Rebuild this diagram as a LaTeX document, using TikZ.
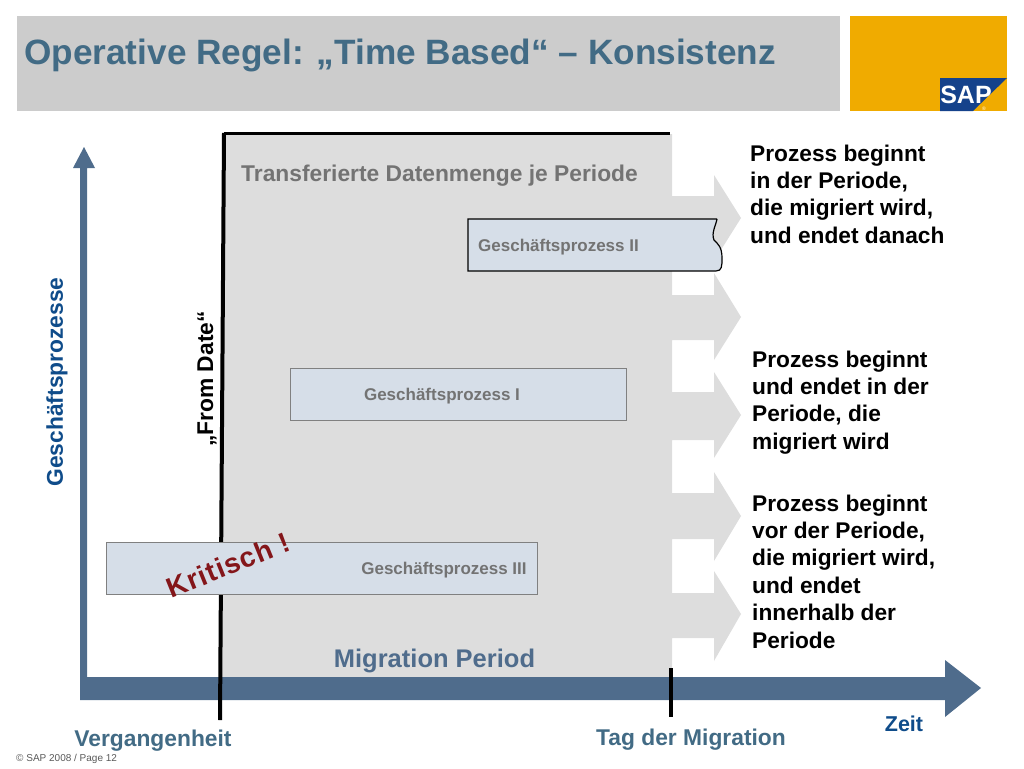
\documentclass[tikz,border=0pt]{standalone}
\usepackage{fontspec}
\setmainfont{Liberation Sans}
\usetikzlibrary{positioning}
\definecolor{sapblue}{HTML}{4F6C8C}
\definecolor{titleblue}{HTML}{426B85}
\definecolor{labelblue}{HTML}{0F4C8A}
\definecolor{bandgrey}{HTML}{CCCCCC}
\definecolor{areagrey}{HTML}{DDDDDD}
\definecolor{boxblue}{HTML}{D6DEE8}
\definecolor{sapgold}{HTML}{F0AB00}
\definecolor{sapnavy}{HTML}{15428B}
\definecolor{critred}{HTML}{84161A}
\tikzset{
  px/.style={x=1pt,y=-1pt},
  procbox/.style={draw=gray,line width=1pt,fill=boxblue,minimum height=52pt,inner sep=0pt},
  proctext/.style={font=\bfseries\fontsize{17}{17}\selectfont,text=black!55},
  sidetext/.style={font=\bfseries\fontsize{22.7}{27.4}\selectfont,align=left,anchor=north west,inner sep=0pt},
  axistext/.style={font=\bfseries\fontsize{22.8}{24}\selectfont},
}
\begin{document}
\begin{tikzpicture}[px]
  \useasboundingbox (0,0) rectangle (1024,768);
  % header
  \fill[bandgrey] (17,16) rectangle (840,111);
  \fill[sapgold] (850,16) rectangle (1007,111);
  \fill[sapnavy] (940,78) -- (1007,78) -- (973,111) -- (940,111) -- cycle;
  \node[font=\bfseries\fontsize{25}{25}\selectfont,text=white,inner sep=0pt] (sap) at (966,95) {SAP};
  \node[font=\fontsize{5}{5}\selectfont,text=white,inner sep=0pt] (reg) at (984,109) {®};
  \node[font=\bfseries\fontsize{35.2}{36}\selectfont,text=titleblue,anchor=west,inner sep=0pt] (title) at (24,55) {Operative Regel: „Time Based“ – Konsistenz};
  % period area with arrows
  \fill[areagrey] (222,134) -- (672,134) -- (672,196) -- (714,196) -- (714,175) -- (741,218) -- (714,261)
    -- (714,241) -- (672,241) -- (672,295) -- (714,295) -- (714,273) -- (741,317) -- (714,360)
    -- (714,340) -- (672,340) -- (672,392) -- (714,392) -- (714,372) -- (741,415) -- (714,458)
    -- (714,440) -- (672,440) -- (672,493) -- (714,493) -- (714,472) -- (741,516) -- (714,561)
    -- (714,539) -- (672,539) -- (672,593) -- (714,593) -- (714,571) -- (741,614) -- (714,661)
    -- (714,638) -- (672,638) -- (672,677) -- (222,677) -- cycle;
  % axes
  \fill[sapblue] (80,700) -- (80,677) -- (945,677) -- (945,660) -- (981,688) -- (945,717) -- (945,700) -- cycle;
  \fill[sapblue] (80,677) -- (80,168) -- (73,168) -- (84,147) -- (95,168) -- (87,168) -- (87,677) -- cycle;
  % from date and migration day
  \coordinate (from1) at (224,133);
  \coordinate (from2) at (220,720);
  \coordinate (top2) at (670,133);
  \coordinate (day1) at (671,668);
  \coordinate (day2) at (671,717);
  \draw[line width=4pt] (from1) -- (from2);
  \draw[line width=3pt] (from1) -- (top2);
  \draw[line width=4pt] (day1) -- (day2);
  % processes
  \node[procbox,minimum width=336pt] (1) at (458,394) {};
  \node[procbox,minimum width=431pt] (3) at (321.5,568) {};
  \filldraw[fill=boxblue,draw=black,line width=1.2pt] (717,219) -- (468,219) -- (468,271) -- (716,271)
    .. controls (722,271) and (722,266) .. (722,258)
    .. controls (722,247) and (718,244) .. (714,240)
    .. controls (711,233) and (716,225) .. (717,219);
  \node[proctext] (t2) at (558.5,247.5) {Geschäftsprozess II};
  \node[proctext] (t1) at (442,396.5) {Geschäftsprozess I};
  \node[proctext] (t3) at (444,570.5) {Geschäftsprozess III};
  \node[font=\bfseries\fontsize{22.8}{24}\selectfont,text=black!55,anchor=west,inner sep=0pt] (trans) at (241,176) {Transferierte Datenmenge je Periode};
  \node[font=\bfseries\fontsize{28}{30}\selectfont\addfontfeatures{LetterSpace=4},text=critred,rotate=22] (krit) at (228,565) {Kritisch !};
  % right hand notes
  \node[sidetext] (n1) at (750,144.5) {Prozess beginnt\\in der Periode,\\die migriert wird,\\und endet danach};
  \node[sidetext] (n2) at (752,350.5) {Prozess beginnt\\und endet in der\\Periode, die\\migriert wird};
  \node[sidetext] (n3) at (752,494.5) {Prozess beginnt\\vor der Periode,\\die migriert wird,\\und endet\\innerhalb der\\Periode};
  % axis labels
  \node[axistext,text=labelblue,rotate=90] (gp) at (57,382) {Geschäftsprozesse};
  \node[axistext,rotate=90] (fd) at (207,379) {„From Date“};
  \node[font=\bfseries\fontsize{25.5}{27}\selectfont,text=sapblue] (mp) at (434.5,661) {Migration Period};
  \node[axistext,text=titleblue] (past) at (153,741) {Vergangenheit};
  \node[axistext,text=titleblue] (tag) at (691,740) {Tag der Migration};
  \node[axistext,text=labelblue,font=\bfseries\fontsize{21.5}{24}\selectfont] (zeit) at (904,724) {Zeit};
  \node[font=\fontsize{10}{12}\selectfont,text=black!65,anchor=west,inner sep=0pt] (foot) at (16,759) {© SAP 2008 / Page 12};
\end{tikzpicture}
\end{document}
